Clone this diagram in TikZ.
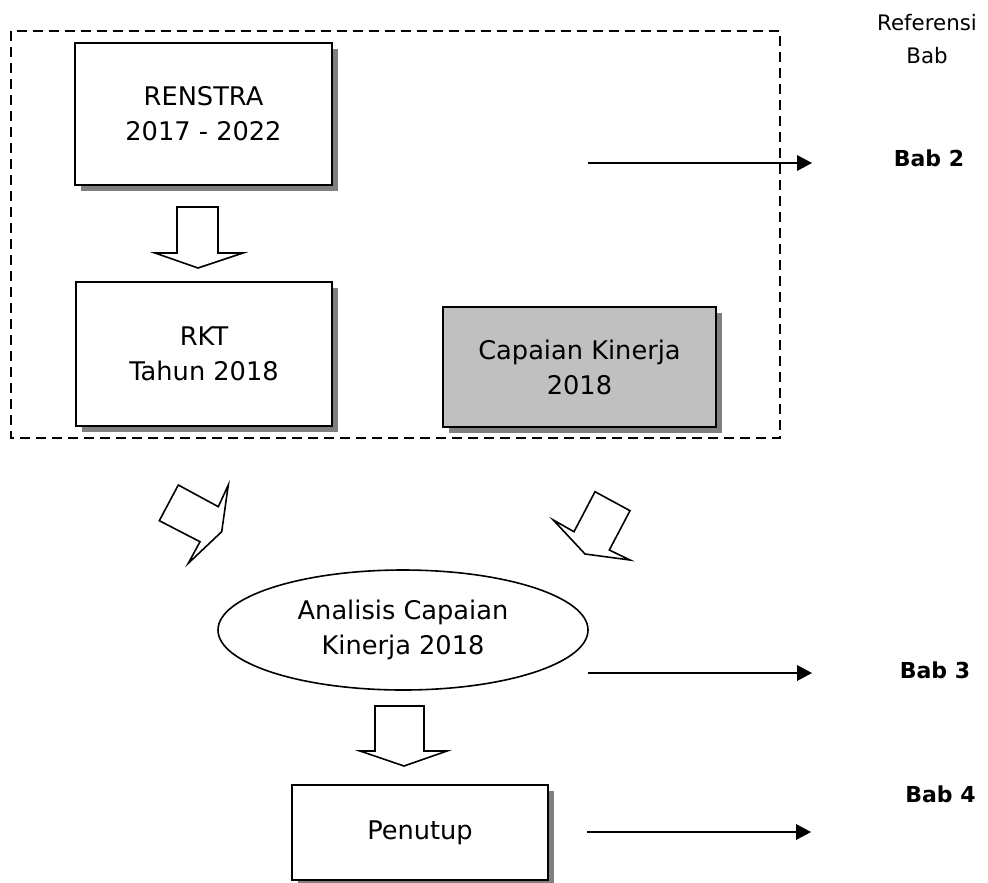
\documentclass[tikz,border=0pt]{standalone}
\usepackage{fontspec}
\setmainfont{DejaVu Sans}
\usetikzlibrary{shapes.geometric,shadows}

\definecolor{boxgray}{RGB}{192,192,192}
\definecolor{shadowgray}{RGB}{128,128,128}

\tikzset{every picture/.style={line width=0.75pt}}
\tikzset{
  flowbox/.style={draw, line width=1.4pt, fill=white, align=center, inner sep=0pt,
    font=\fontsize{19.25}{26.25}\selectfont,
    drop shadow={shadow xshift=4.5pt, shadow yshift=-4.5pt, fill=shadowgray, opacity=1}},
  flowellipse/.style={ellipse, draw, line width=1.2pt, align=center, inner sep=0pt,
    font=\fontsize{19.25}{26.25}\selectfont},
  blockarrow/.style={draw, line width=1.2pt, fill=white, line join=miter},
  chapterlink/.style={line width=1.9pt},
  chaptertip/.style={fill=black, line width=0.08, draw opacity=0},
  chapterlabel/.style={anchor=base, font=\fontsize{16.5}{20}\selectfont\bfseries}
}

\begin{document}
\begin{tikzpicture}[x=0.75pt,y=0.75pt,yscale=-1,xscale=1]
\useasboundingbox (0,0) rectangle (988,882);

%Shape: Dashed Rectangle [id:planning]
\draw [line width=1.2pt, dash pattern={on 7.5pt off 4.5pt}] (11,31) rectangle (780,438);

%Shape: Rectangle [id:renstra]
\node [flowbox, minimum width=192.75pt, minimum height=106.5pt] (renstra) at (203.5,114) {RENSTRA\\2017 - 2022};
%Shape: Rectangle [id:rkt]
\node [flowbox, minimum width=192pt, minimum height=108pt] (rkt) at (204,354) {RKT\\Tahun 2018};
%Shape: Rectangle [id:capaian]
\node [flowbox, fill=boxgray, minimum width=204.75pt, minimum height=90pt] (capaian) at (579.5,367) {Capaian Kinerja\\2018};
%Shape: Ellipse [id:analisis]
\node [flowellipse, minimum width=277.5pt, minimum height=90pt] (analisis) at (403,630) {Analisis Capaian\\Kinerja 2018};
%Shape: Rectangle [id:penutup]
\node [flowbox, minimum width=192pt, minimum height=71.25pt] (penutup) at (420,832.5) {Penutup};

%Shape: Down Arrow [id:renstra-rkt]
\draw [blockarrow] (177,207) -- (218,207) -- (218,253) -- (243,253) -- (198,268) -- (155,253) -- (177,253) -- cycle ;
%Shape: Bent Arrow [id:rkt-analisis]
\draw [blockarrow] (178.3,485) -- (218.3,506.7) -- (228.3,485) -- (221.7,531.7) -- (188.3,563.3) -- (200,541.7) -- (159.3,520.7) -- cycle ;
%Shape: Bent Arrow [id:capaian-analisis]
\draw [blockarrow] (595,491.7) -- (630,510.7) -- (609.3,550) -- (630,560) -- (585,554) -- (553.3,520) -- (574,531.7) -- cycle ;
%Shape: Down Arrow [id:analisis-penutup]
\draw [blockarrow] (375,706) -- (424,706) -- (424,751) -- (447,751) -- (404,766) -- (360,751) -- (375,751) -- cycle ;

%Straight Lines [id:bab2]
\coordinate (bab2s) at (588,163);
\coordinate (bab2e) at (812,163);
\draw [chapterlink] (bab2s) -- ([xshift=-10pt]bab2e) ;
\draw [shift={(bab2e)}, rotate = 180] [chaptertip] (15,-8) -- (0,0) -- (15,8) -- cycle ;
%Straight Lines [id:bab3]
\coordinate (bab3s) at (588,673);
\coordinate (bab3e) at (812,673);
\draw [chapterlink] (bab3s) -- ([xshift=-10pt]bab3e) ;
\draw [shift={(bab3e)}, rotate = 180] [chaptertip] (15,-8) -- (0,0) -- (15,8) -- cycle ;
%Straight Lines [id:bab4]
\coordinate (bab4s) at (587,832);
\coordinate (bab4e) at (811,832);
\draw [chapterlink] (bab4s) -- ([xshift=-10pt]bab4e) ;
\draw [shift={(bab4e)}, rotate = 180] [chaptertip] (15,-8) -- (0,0) -- (15,8) -- cycle ;

% Text Node
\node [align=center, font=\fontsize{16}{24.75}\selectfont] (referensi) at (927,39) {Referensi\\Bab};
% Text Node
\node [chapterlabel] (lbab2) at (929,166) {Bab 2};
% Text Node
\node [chapterlabel] (lbab3) at (935,678) {Bab 3};
% Text Node
\node [chapterlabel] (lbab4) at (940.5,802) {Bab 4};

\end{tikzpicture}
\end{document}
